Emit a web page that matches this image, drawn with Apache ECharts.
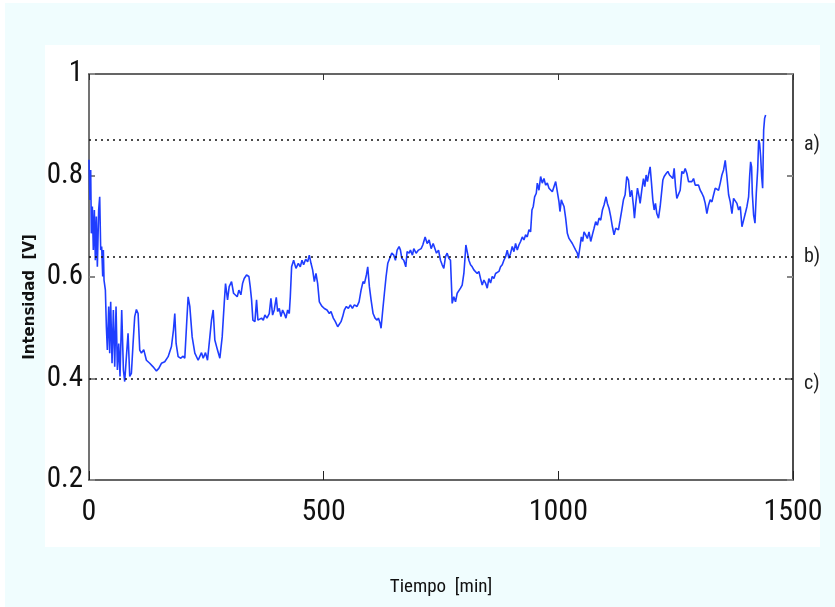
<!DOCTYPE html>
<html>
<head>
<meta charset="utf-8">
<script src="https://cdn.jsdelivr.net/npm/echarts@6/dist/echarts.min.js"></script>
<style>
html,body{margin:0;padding:0;background:#fff;}
#chart{width:835px;height:607px;}
</style>
</head>
<body>
<div id="chart"></div>
<script>
// Time [min]
var timeMin = [
0,2,3.6,5,7.1,9.2,11.4,13.5,15.6,17.8,20.6,22.8,24.9,27,29.2,30.6,32,34.9,37,39.1,42,44.1,46.2,49.1,51.9,54.8,57.6,60.5,63.3,66.1,69.7,73.3,76.1,79.7,83.2,86.8,90.3,93.9,97.4,101,104.6,108.1,111.7,116.6,122.3,129.4,136.6,143.7,148.7,154.3,161.4,168.6,175.7,180,182.8,185.6,189.9,195.6,200.6,204.1,207.7,211.2,214.8,219.8,225.5,232.6,239.7,243.3,248.2,252.5,257.5,261,264.6,268.1,273.8,278.8,283.8,288.1,290.9,295.2,298.7,303.7,308,312.2,315.8,319.3,323.6,327.2,330.7,335.7,340.7,343.5,346.4,349.2,353.5,357,359.9,364.1,367.7,371.3,374.8,
379.1,384.1,387.6,391.2,394.7,399,401.9,405.4,409,412.5,416.1,419.6,423.2,426.7,428.9,431.7,436,441,446,450.2,453.8,457.3,461.6,465.9,469.4,473,476.5,480.1,483.6,487.2,490.8,495.7,501.4,507.1,512.1,515.6,520.6,524.9,529.9,534.1,537,540.5,544.1,548.4,552.6,556.9,561.2,565.4,571.1,575.4,579.7,583.9,586.8,591,593.9,597.4,601,605.3,609.5,613.8,616.6,620.2,622.3,625.9,629.4,633,636.6,640.8,645.1,649.4,652.9,656.5,660.7,663.6,666.4,670.7,675,677.8,682.1,684.9,689.2,692,697,702,707.7,711.2,716.2,720.5,724.7,729,733.3,737.5,740.4,744.7,748.9,
752.5,756,759.6,763.1,766.7,770.2,773.8,777.3,780.9,784.5,788,791.6,795.1,798.7,800.8,803,805.8,809.4,812.9,816.5,820,823.6,827.1,830.7,834.2,837.8,841.4,844.9,848.5,852,855.6,859.1,862.7,866.3,869.8,873.4,876.9,880.5,884,887.6,891.1,894.7,898.3,901.8,905.4,908.9,912.5,916,919.6,923.2,926.7,930.3,933.8,937.4,940.9,943.8,946.6,949.5,953,955.2,958.7,962.3,965.8,969.4,972.9,976.5,980.1,983.6,987.2,990.7,994.3,997.8,1001.4,1003.5,1006.4,1009.2,1012.1,1015.6,1019.2,1022.7,1026.3,1029.8,1033.4,1037,1040.5,1042.6,1046.2,1049,1051.9,1054.7,1058.3,1061.8,1065.4,1069,1072.5,1076.1,1079.6,1083.2,1086.7,1090.3,1093.9,1097.4,1101.7,1104.5,1108.1,1111.6,1115.2,1118.7,1122.3,1125.9,
1128.1,1131.6,1135.2,1138.7,1142.3,1145.8,1149.4,1153,1156.5,1160.1,1162.2,1165,1168.6,1172.2,1174.3,1177.8,1181.4,1184.2,1187.1,1189.9,1192.8,1195.6,1198.5,1201.3,1204.2,1207,1209.8,1213.4,1217,1220.5,1222.7,1225.5,1229.8,1233.3,1236.9,1240.4,1244,1246.8,1249.7,1252.5,1256.1,1259.6,1263.2,1266.7,1270.3,1273.9,1277.4,1281,1284.5,1288.1,1291.6,1295.2,1298.8,1302.3,1305.9,1309.4,1313,1316.5,1320.1,1323.6,1327.2,1330.8,1334.3,1337.9,1341.4,1345,1348.5,1352.1,1355.6,1359.2,1362.8,1366.3,1369.9,1373.4,1377,1380.5,1384.1,1387.7,1391.2,1394.8,1398.3,1401.9,1405.4,1407.6,1409.7,1411.8,1413.3,1416.1,1419,1421.8,1424.7,1426.8,1428.9,1431.1,1433.2,1435.3,1437.5,1439.6,1441.7
];
// Intensidad [V]
var intensity = [
0.831,0.752,0.811,0.686,0.739,0.653,0.732,0.633,0.719,0.620,0.732,0.758,0.653,0.660,0.601,0.653,0.594,0.574,0.502,0.456,0.542,0.450,0.551,0.430,0.535,0.423,0.542,0.417,0.469,0.404,0.535,0.417,0.394,0.443,0.489,0.404,0.410,0.469,0.522,0.536,0.528,0.456,0.450,0.457,0.436,0.430,0.423,0.415,0.420,0.430,0.433,0.443,0.463,0.496,0.528,0.469,0.443,0.440,0.444,0.440,0.502,0.561,0.542,0.482,0.450,0.436,0.451,0.440,0.451,0.436,0.482,0.515,0.535,0.476,0.456,0.440,0.482,0.548,0.587,0.555,0.581,0.591,0.568,0.571,0.561,0.574,0.565,0.587,0.597,0.604,0.601,0.581,0.555,0.515,0.512,0.555,0.515,0.512,0.519,0.515,0.525,
0.519,0.528,0.558,0.525,0.535,0.560,0.532,0.538,0.522,0.535,0.528,0.519,0.535,0.528,0.561,0.620,0.633,0.617,0.627,0.620,0.633,0.624,0.635,0.630,0.643,0.627,0.614,0.591,0.607,0.587,0.551,0.543,0.538,0.535,0.528,0.532,0.519,0.512,0.502,0.499,0.512,0.522,0.535,0.542,0.538,0.545,0.538,0.545,0.542,0.551,0.574,0.591,0.587,0.604,0.620,0.581,0.555,0.528,0.519,0.515,0.519,0.509,0.499,0.535,0.568,0.601,0.627,0.637,0.647,0.643,0.633,0.653,0.660,0.653,0.637,0.633,0.620,0.650,0.647,0.653,0.643,0.656,0.647,0.653,0.656,0.663,0.679,0.666,0.673,0.656,0.666,0.663,0.647,0.653,0.633,
0.624,0.617,0.640,0.647,0.637,0.633,0.548,0.561,0.551,0.568,0.571,0.578,0.584,0.607,0.633,0.663,0.650,0.633,0.624,0.620,0.614,0.617,0.607,0.611,0.597,0.584,0.594,0.588,0.578,0.597,0.588,0.601,0.597,0.607,0.604,0.611,0.620,0.624,0.633,0.640,0.653,0.637,0.647,0.660,0.650,0.666,0.653,0.663,0.670,0.679,0.673,0.683,0.679,0.693,0.689,0.732,0.739,0.758,0.765,0.785,0.771,0.798,0.785,0.794,0.781,0.785,0.775,0.778,0.768,0.778,0.788,0.768,0.748,0.729,0.752,0.745,0.739,0.716,0.686,0.676,0.673,0.666,0.663,0.653,0.647,0.637,0.660,0.679,0.670,0.689,0.683,0.676,0.689,0.670,0.683,0.696,0.709,0.702,0.716,0.712,0.732,0.742,0.758,0.745,0.735,0.719,0.699,0.683,0.696,0.693,
0.693,0.712,0.732,0.752,0.762,0.798,0.791,0.758,0.771,0.739,0.716,0.745,0.775,0.758,0.745,0.771,0.794,0.778,0.801,0.788,0.804,0.817,0.785,0.752,0.732,0.745,0.725,0.716,0.739,0.739,0.791,0.798,0.804,0.808,0.801,0.804,0.794,0.814,0.778,0.755,0.755,0.771,0.808,0.804,0.814,0.804,0.788,0.785,0.788,0.794,0.781,0.778,0.781,0.771,0.765,0.758,0.745,0.725,0.742,0.752,0.748,0.762,0.775,0.778,0.771,0.785,0.801,0.811,0.830,0.798,0.762,0.748,0.725,0.755,0.752,0.745,0.732,0.739,0.699,0.712,0.725,0.739,0.758,0.798,0.827,0.817,0.765,0.722,0.706,0.765,0.811,0.870,0.863,0.837,0.798,0.775,0.890,0.913,0.919
];
// Reference levels a), b), c)
var levelNames = ['a)', 'b)', 'c)'];
var levelValues = [0.868, 0.642, 0.396];
var xTicks = [0, 500, 1000, 1500];
var yTicks = [0.2, 0.4, 0.6, 0.8, 1];

var seriesData = timeMin.map(function (t, i) { return [t, intensity[i]]; });

var narrow = "'Liberation Sans Narrow','Arial Narrow','Roboto Condensed','Liberation Sans',sans-serif";

var chart = echarts.init(document.getElementById('chart'), null, {renderer: 'canvas'});

var graphics = [
  {type: 'rect', z: -100, shape: {x: 5, y: 3, width: 830, height: 604}, style: {fill: '#f0fdfe'}},
  {type: 'rect', z: -99, shape: {x: 45, y: 45, width: 775, height: 502}, style: {fill: '#ffffff'}},
  {type: 'text', x: 30, y: 297, rotation: Math.PI / 2, z: 10,
   style: {text: 'Intensidad  [V]', font: "bold 15px 'DejaVu Sans', sans-serif", fill: '#111', align: 'center', verticalAlign: 'middle'}}
];
var labelY = [145, 257, 384];
levelNames.forEach(function (n, i) {
  graphics.push({type: 'text', x: 804, y: labelY[i], z: 10,
    style: {text: n, font: "20px " + narrow, fill: '#222', align: 'left', verticalAlign: 'middle'}});
});

var option = {
  animation: false,
  backgroundColor: '#ffffff',
  graphic: graphics,
  grid: {left: 89, right: 42, top: 74, bottom: 127, containLabel: false, outerBoundsMode: 'none'},
  xAxis: [
    {type: 'value', position: 'bottom', min: 0, max: 1500, interval: 500,
     name: 'Tiempo  [min]', nameLocation: 'middle', nameGap: 98,
     nameTextStyle: {fontSize: 19, color: '#111', fontFamily: narrow},
     axisLine: {show: true, onZero: false, lineStyle: {color: '#333', width: 1.5}},
     axisTick: {show: true, inside: true, length: 9, lineStyle: {color: '#222', width: 1}},
     axisLabel: {fontSize: 30, color: '#111', margin: 17, fontFamily: narrow,
                 formatter: function (v) { return xTicks.indexOf(v) >= 0 ? String(v) : ''; }},
     splitLine: {show: false}},
    {type: 'value', position: 'top', min: 0, max: 1500, interval: 500,
     axisLine: {show: true, onZero: false, lineStyle: {color: '#333', width: 1.5}},
     axisTick: {show: true, inside: true, length: 6, lineStyle: {color: '#333', width: 1}},
     axisLabel: {show: false}, splitLine: {show: false}}
  ],
  yAxis: [
    {type: 'value', position: 'left', min: 0.2, max: 1, interval: 0.2,
     axisLine: {show: true, onZero: false, lineStyle: {color: '#444', width: 1.5}},
     axisTick: {show: true, inside: true, length: 6, lineStyle: {color: '#888', width: 2}},
     axisLabel: {fontSize: 29, color: '#111', margin: 6, fontFamily: narrow, padding: [4, 0, 0, 0],
                 formatter: function (v) { var r = Math.round(v * 10) / 10; return r === 1 ? '1' : String(r); }},
     splitLine: {show: false}},
    {type: 'value', position: 'right', min: 0.2, max: 1, interval: 0.2,
     axisLine: {show: true, onZero: false, lineStyle: {color: '#111', width: 1.5}},
     axisTick: {show: true, inside: true, length: 6, lineStyle: {color: '#888', width: 2}},
     axisLabel: {show: false}, splitLine: {show: false}}
  ],
  series: [{
    type: 'line',
    xAxisIndex: 0, yAxisIndex: 0,
    data: seriesData,
    showSymbol: false,
    symbol: 'none',
    lineStyle: {color: '#1f3dff', width: 1.6},
    z: 3,
    markLine: {
      silent: true,
      symbol: ['none', 'none'],
      label: {show: false},
      lineStyle: {color: '#111', type: [2, 4], width: 1.5},
      data: levelValues.map(function (v) { return {yAxis: v}; })
    }
  }]
};
chart.setOption(option);
</script>
</body>
</html>
